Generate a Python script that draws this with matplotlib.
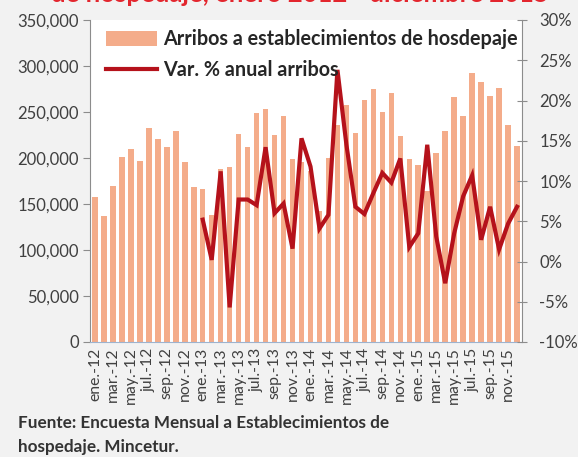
import matplotlib
matplotlib.use("Agg")
import matplotlib.pyplot as plt
import numpy as np

plt.rcParams['font.family'] = ['Lato', 'DejaVu Sans']

months = ["ene.", "feb.", "mar.", "abr.", "may.", "jun.", "jul.", "ago.", "sep.", "oct.", "nov.", "dic."]
years = ["12", "13", "14", "15"]
categories = [f"{m}-{y}" for y in years for m in months]

arribos = [
    158000, 137000, 169600, 201400, 209800, 197000, 232300, 220700, 211600, 229400, 195700, 169000,
    166000, 138000, 188000, 190000, 226000, 212300, 249300, 253000, 225000, 245700, 199000, 196000,
    185600, 142000, 199700, 235900, 257600, 226900, 263000, 274700, 250300, 271000, 224000, 198900,
    192400, 164500, 205100, 229700, 266000, 246000, 292700, 283000, 267700, 275700, 235900, 213000,
]

var_pct = [
    5.2, 0.2, 11.2, -5.7, 7.7, 7.7, 7.0, 14.2, 6.0, 7.2, 1.6, 15.3,
    11.8, 4.1, 5.8, 23.8, 14.5, 6.8, 5.9, 8.5, 11.0, 9.8, 12.8, 1.8,
    3.5, 14.5, 3.1, -2.7, 3.5, 8.1, 10.7, 2.7, 6.8, 1.5, 4.7, 6.8,
]
var_start = 12  # line begins at ene.-13

left_ticks = [0, 50000, 100000, 150000, 200000, 250000, 300000, 350000]
right_ticks = [-10, -5, 0, 5, 10, 15, 20, 25, 30]

bar_color = '#F4AC8A'
line_color = '#B5121B'
text_color = '#404040'
axis_color = '#8C8C8C'

fig = plt.figure(figsize=(5.78, 4.57), dpi=100, facecolor='#F2F2F2')
ax = fig.add_axes([90/578, 1-342/457, (522-90)/578, (342-20)/457])
ax.set_facecolor('white')

x = np.arange(len(categories))
bars = ax.bar(x, arribos, width=0.62, color=bar_color, zorder=2,
              label='Arribos a establecimientos de hosdepaje')
ax.set_xlim(-0.55, len(categories) - 0.45)
ax.set_ylim(0, 350000)
ax.set_yticks(left_ticks)
ax.set_yticklabels([f"{v:,}" for v in left_ticks])
ax.set_xticks(x[::2])
ax.set_xticklabels(categories[::2], rotation=90)

ax2 = ax.twinx()
xl = x[var_start:]
line, = ax2.plot(xl, var_pct, color=line_color, lw=3.0, zorder=5,
                 solid_joinstyle='miter', label='Var. % anual arribos')
ax2.set_ylim(-10, 30)
ax2.set_yticks(right_ticks)
ax2.set_yticklabels([f"{v}%" for v in right_ticks])

for a in (ax, ax2):
    for s in a.spines.values():
        s.set_visible(False)
ax.spines['left'].set_visible(True)
ax.spines['left'].set_color(axis_color)
ax.spines['bottom'].set_visible(True)
ax.spines['bottom'].set_color('#9DB3CF')
ax2.spines['right'].set_visible(True)
ax2.spines['right'].set_color(axis_color)

ax.tick_params(axis='y', direction='out', length=5, color=axis_color,
               labelcolor=text_color, labelsize=12, pad=3)
ax.tick_params(axis='x', length=0, labelcolor=text_color, labelsize=11.3, pad=4)
ax2.tick_params(axis='y', direction='inout', length=7, color=axis_color,
                labelcolor=text_color, labelsize=12, pad=9)

leg = ax2.legend(handles=[bars, line], loc='upper left',
                 bbox_to_anchor=(0.0, 1.02), frameon=False,
                 prop={'weight': 'bold', 'size': 14.2},
                 handlelength=2.6, handleheight=0.8, handletextpad=0.3,
                 labelspacing=0.55, borderpad=0.3)
for t in leg.get_texts():
    t.set_color('#262626')

fig.text(300/578, 1 - 2.5/457, "de hospedaje, enero 2012 - diciembre 2015",
         color='#E3262E', fontsize=18.5, fontweight='bold', ha='center', va='baseline')

fig.text(18/578, 1-415/457, "Fuente: Encuesta Mensual a Establecimientos de\nhospedaje. Mincetur.",
         color='#333333', fontsize=12.3, fontweight='bold', ha='left', va='top',
         linespacing=1.6)

fig.savefig('out.png', dpi=100, facecolor=fig.get_facecolor())
